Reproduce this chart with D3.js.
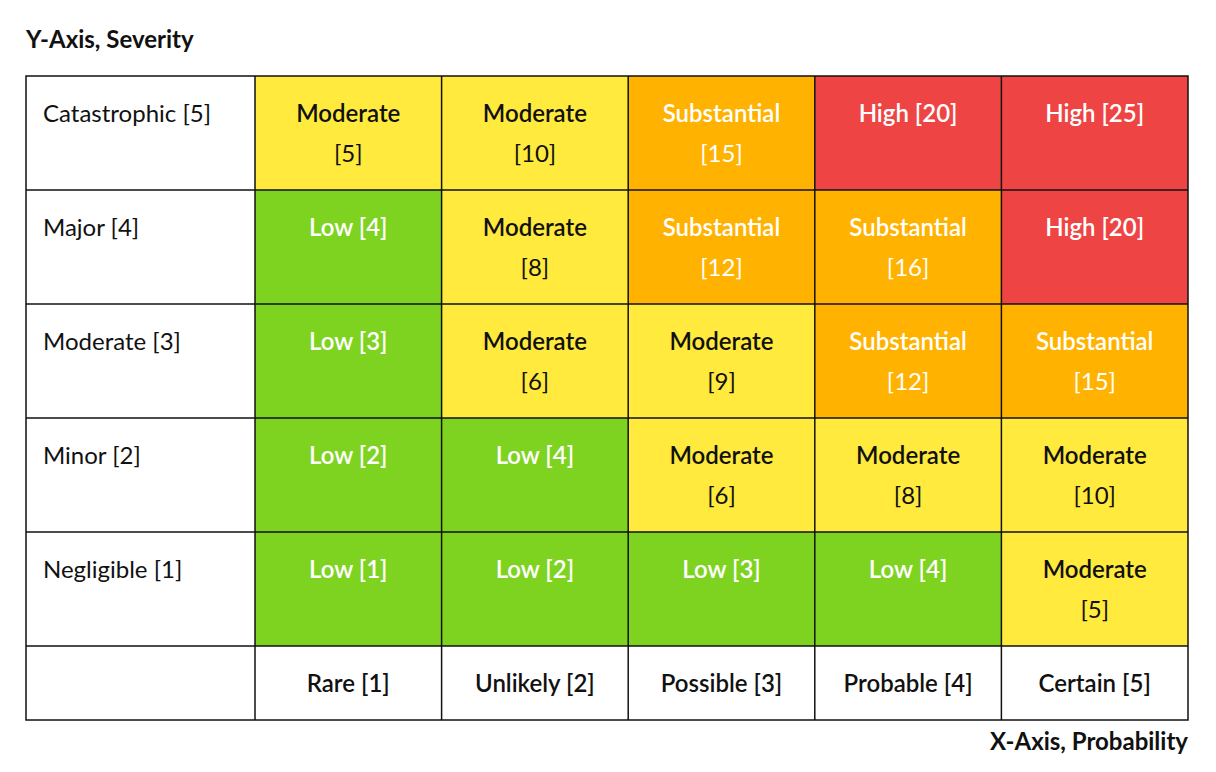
<!DOCTYPE html>
<html><head><meta charset="utf-8">
<script src="https://cdn.jsdelivr.net/npm/d3@7"></script>
<style>body{margin:0;background:#fff;font-family:Lato,"Open Sans",sans-serif}</style>
</head><body><svg id="c" width="1216" height="772"></svg>
<script>
const severities = ["Catastrophic [5]","Major [4]","Moderate [3]","Minor [2]","Negligible [1]"];
const probabilities = ["Rare [1]","Unlikely [2]","Possible [3]","Probable [4]","Certain [5]"];
const scores = [
  [5,10,15,20,25],
  [4,8,12,16,20],
  [3,6,9,12,15],
  [2,4,6,8,10],
  [1,2,3,4,5]
];
const levels = [
  ["Moderate","Moderate","Substantial","High","High"],
  ["Low","Moderate","Substantial","Substantial","High"],
  ["Low","Moderate","Moderate","Substantial","Substantial"],
  ["Low","Low","Moderate","Moderate","Moderate"],
  ["Low","Low","Low","Low","Moderate"]
];
const levelColor = {Low:"#7ED321",Moderate:"#FFEA3D",Substantial:"#FFB300",High:"#EF4444"};
const levelText = {Low:"#fff",Moderate:"#111",Substantial:"#fff",High:"#fff"};

const svg = d3.select("#c");
const mLeft=26, headW=229, mRight=1188, mTop=76, rowH=114, footH=74;
const x = d3.scaleBand().domain(probabilities).range([mLeft+headW,mRight]);
const y = d3.scaleBand().domain(severities).range([mTop,mTop+rowH*severities.length]);
const mBottom = mTop+rowH*severities.length+footH;

const cells=[];
severities.forEach((s,i)=>probabilities.forEach((p,j)=>cells.push({s,p,score:scores[i][j],level:levels[i][j]})));

svg.selectAll("rect.cell").data(cells).join("rect")
  .attr("x",d=>x(d.p)).attr("y",d=>y(d.s)).attr("width",x.bandwidth()).attr("height",y.bandwidth())
  .attr("fill",d=>levelColor[d.level]);

const g=svg.append("g").attr("stroke","#111").attr("stroke-width",1.5).attr("fill","none");
g.append("rect").attr("x",mLeft).attr("y",mTop).attr("width",mRight-mLeft).attr("height",mBottom-mTop);
[mLeft+headW,...probabilities.slice(1).map(p=>x(p))].forEach(v=>g.append("line").attr("x1",v).attr("x2",v).attr("y1",mTop).attr("y2",mBottom));
[...severities.slice(1).map(s=>y(s)),mTop+rowH*severities.length].forEach(v=>g.append("line").attr("x1",mLeft).attr("x2",mRight).attr("y1",v).attr("y2",v));

const ct=svg.selectAll("text.cell").data(cells).join("text")
  .attr("text-anchor","middle").attr("font-size",24).attr("font-weight",600)
  .attr("fill",d=>levelText[d.level]);
ct.each(function(d){
  const t=d3.select(this), cx=x(d.p)+x.bandwidth()/2, y0=y(d.s)+46;
  if(d.level==="Moderate"||d.level==="Substantial"){
    t.append("tspan").attr("x",cx).attr("y",y0).text(d.level);
    t.append("tspan").attr("x",cx).attr("y",y0+40).attr("font-weight",400).text("["+d.score+"]");
  } else t.append("tspan").attr("x",cx).attr("y",y0).text(d.level+" ["+d.score+"]");
});

svg.selectAll("text.row").data(severities).join("text")
  .attr("x",mLeft+17).attr("y",d=>y(d)+46).attr("font-size",24).attr("fill","#111").text(d=>d);
svg.selectAll("text.col").data(probabilities).join("text")
  .attr("x",d=>x(d)+x.bandwidth()/2).attr("y",mBottom-28).attr("text-anchor","middle")
  .attr("font-size",24).attr("font-weight",600).attr("fill","#111").text(d=>d);

svg.append("text").attr("x",mLeft).attr("y",48).attr("font-size",24).attr("font-weight",700).attr("fill","#111").text("Y-Axis, Severity");
svg.append("text").attr("x",mRight).attr("y",750).attr("text-anchor","end").attr("font-size",24).attr("font-weight",700).attr("fill","#111").text("X-Axis, Probability");
</script></body></html>
